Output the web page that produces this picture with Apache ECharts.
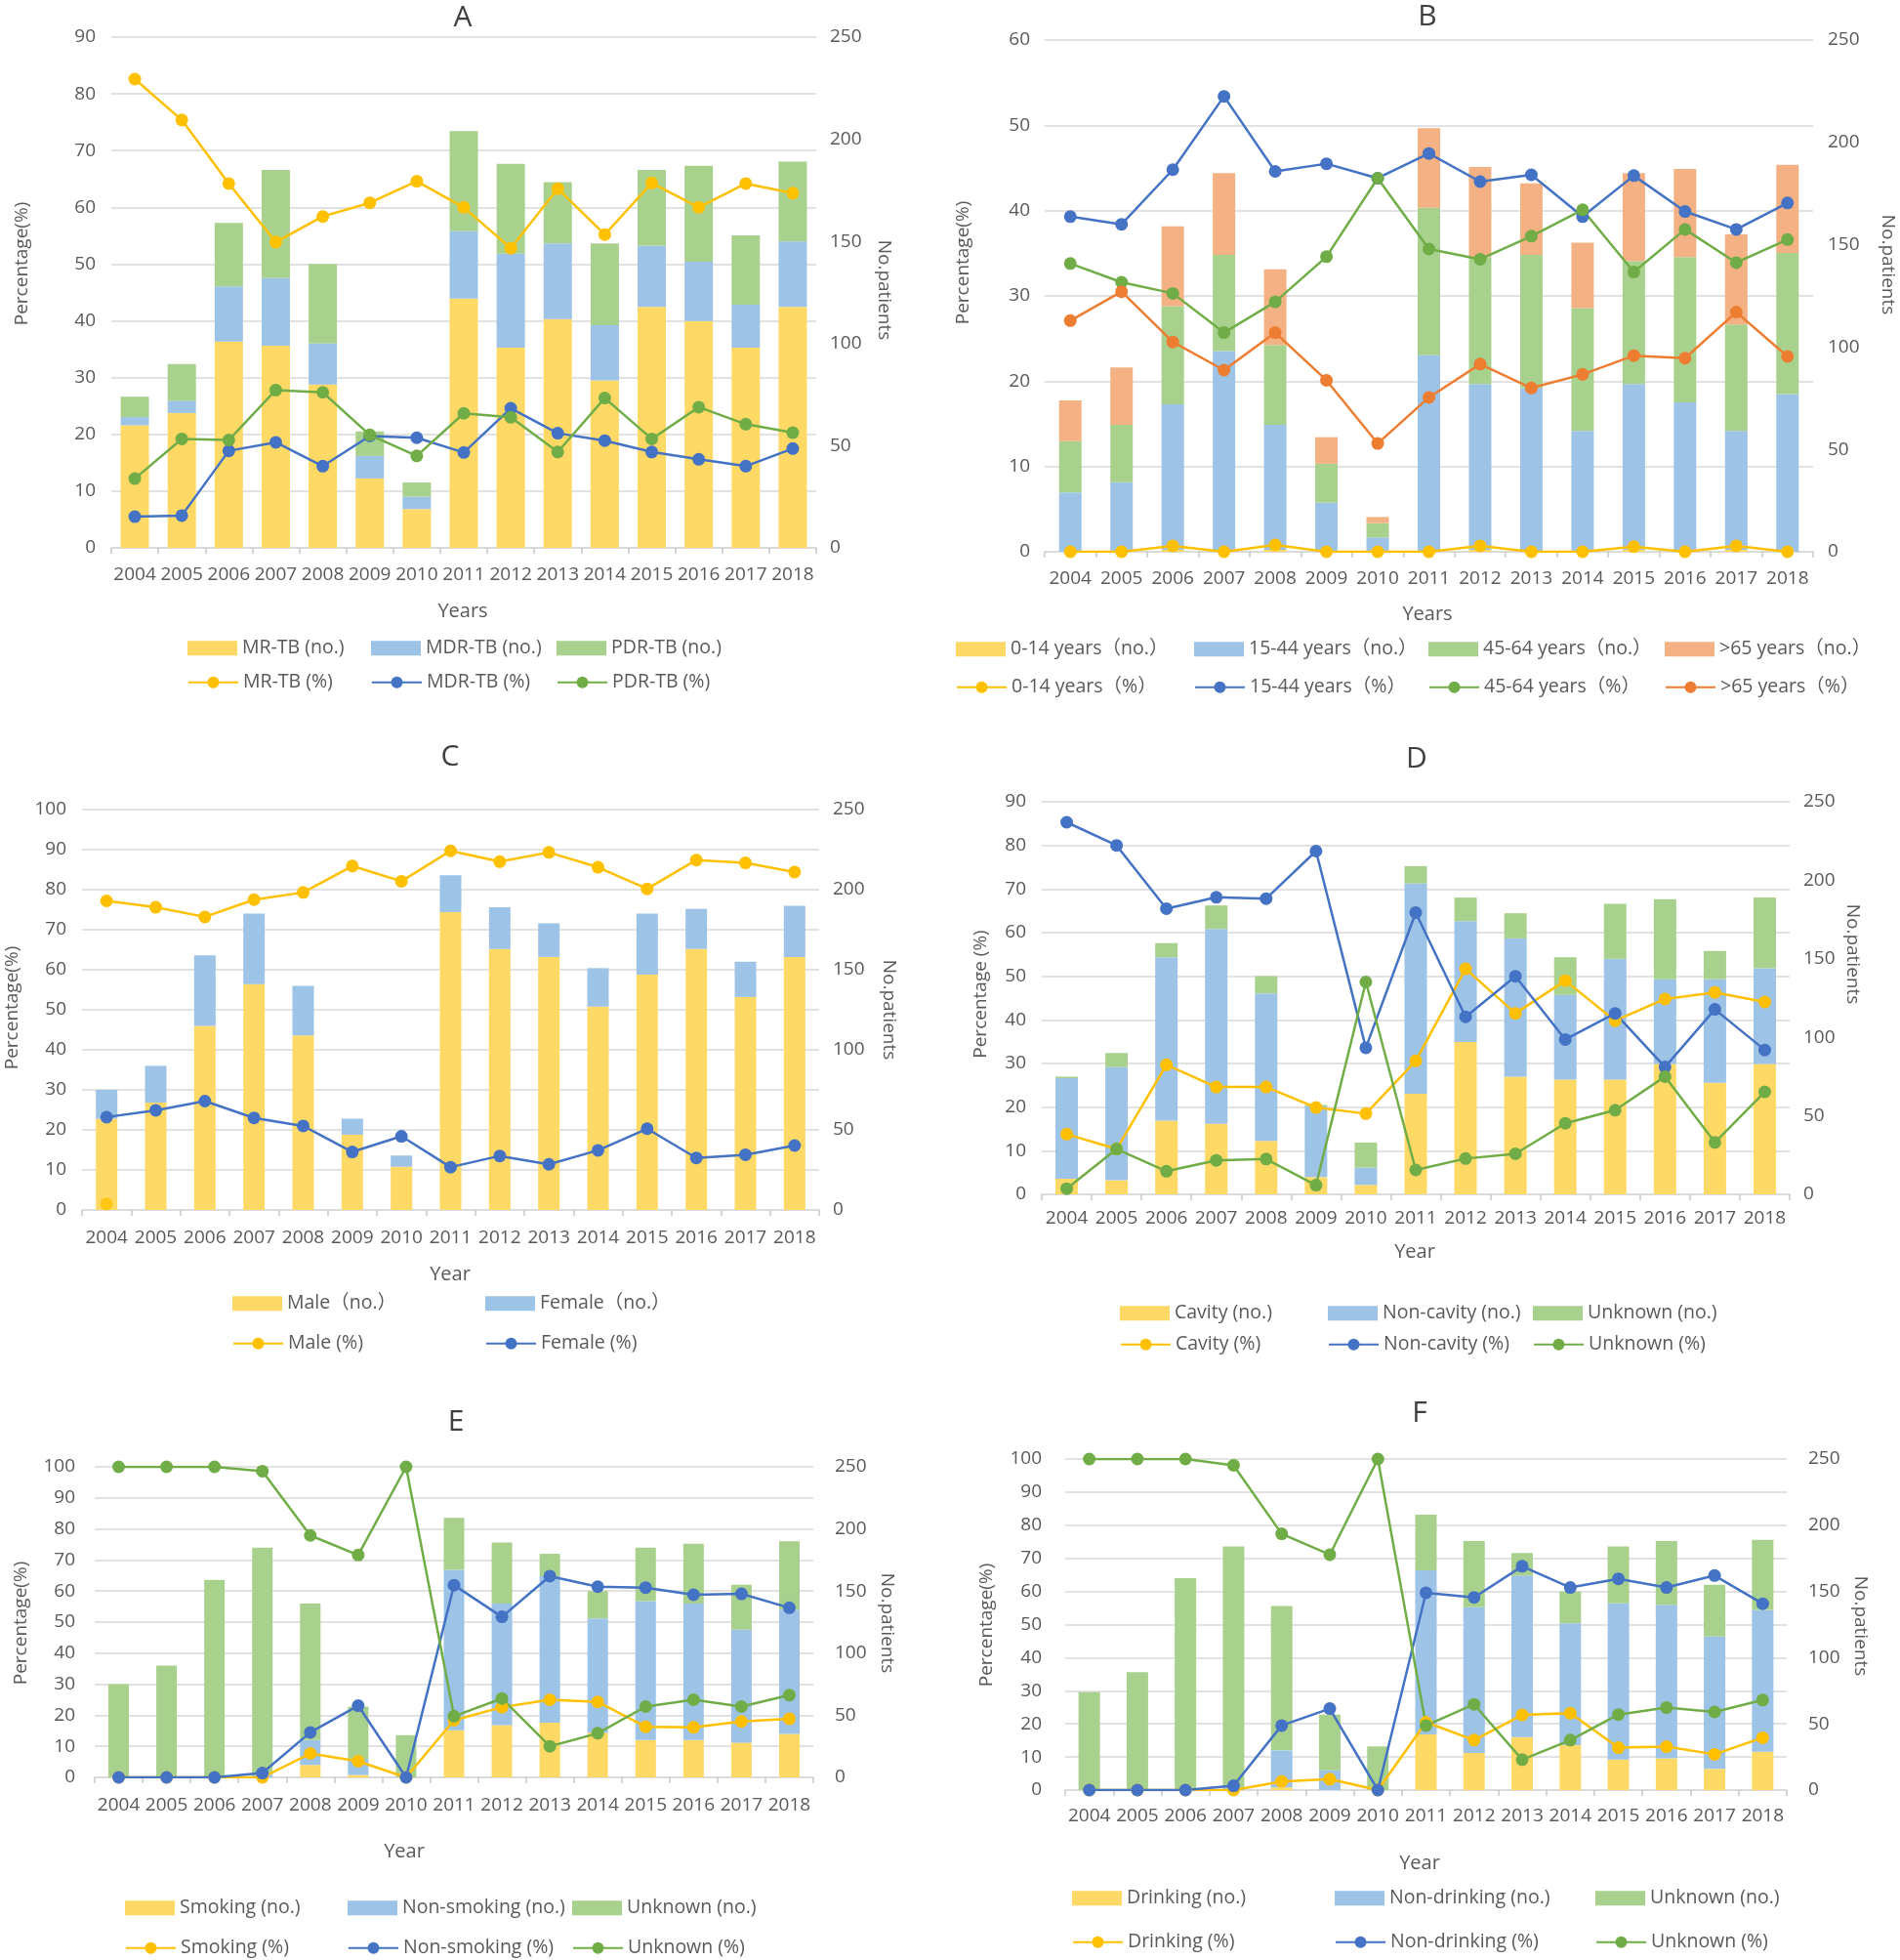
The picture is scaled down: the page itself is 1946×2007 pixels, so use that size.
<!DOCTYPE html>
<html><head><meta charset="utf-8">
<script src="https://cdn.jsdelivr.net/npm/echarts@6/dist/echarts.min.js"></script>
<style>
body{margin:0;background:#fff;}
.c{position:absolute;left:0;top:0;width:1946px;height:2007px;}
</style>
</head><body>
<div id="pA" class="c"></div><div id="pB" class="c"></div><div id="pC" class="c"></div>
<div id="pD" class="c"></div><div id="pE" class="c"></div><div id="pF" class="c"></div>
<script>
const years = ['2004','2005','2006','2007','2008','2009','2010','2011','2012','2013','2014','2015','2016','2017','2018'];

// Panel A
const aMrNo  = [60, 66, 101, 99, 80, 34, 19, 122, 98, 112, 82, 118, 111, 98, 118];
const aMdrNo = [4, 6, 27, 33, 20, 11, 6, 33, 46, 37, 27, 30, 29, 21, 32];
const aPdrNo = [10, 18, 31, 53, 39, 12, 7, 49, 44, 30, 40, 37, 47, 34, 39];
const aMrPct  = [82.6, 75.4, 64.2, 53.9, 58.4, 60.8, 64.6, 60.0, 52.8, 63.3, 55.2, 64.3, 60.0, 64.2, 62.5];
const aMdrPct = [5.5, 5.7, 17.1, 18.6, 14.4, 19.7, 19.4, 16.8, 24.6, 20.2, 18.9, 16.9, 15.6, 14.4, 17.5];
const aPdrPct = [12.2, 19.2, 19.0, 27.8, 27.4, 19.9, 16.2, 23.7, 23.0, 16.9, 26.4, 19.2, 24.8, 21.8, 20.3];

// Panel B
const b014No  = [0, 0, 1, 0, 1, 0, 0, 0, 1, 0, 0, 1, 0, 1, 0];
const b1544No = [29, 34, 71, 98, 61, 24, 7, 96, 81, 80, 59, 81, 73, 58, 77];
const b4564No = [25, 28, 48, 47, 39, 19, 7, 72, 62, 65, 60, 60, 71, 52, 69];
const b65No   = [20, 28, 39, 40, 37, 13, 3, 39, 44, 35, 32, 43, 43, 44, 43];
const b014Pct  = [0, 0, 0.7, 0, 0.8, 0, 0, 0, 0.7, 0, 0, 0.6, 0, 0.7, 0];
const b1544Pct = [39.3, 38.4, 44.8, 53.4, 44.6, 45.5, 43.8, 46.7, 43.4, 44.2, 39.3, 44.1, 39.9, 37.8, 40.9];
const b4564Pct = [33.8, 31.6, 30.3, 25.7, 29.3, 34.6, 43.8, 35.5, 34.3, 37.0, 40.1, 32.8, 37.8, 33.9, 36.6];
const b65Pct   = [27.1, 30.5, 24.6, 21.3, 25.7, 20.1, 12.7, 18.1, 22.0, 19.2, 20.8, 23.0, 22.7, 28.1, 22.9];

// Panel C
const cMaleNo   = [57, 67, 115, 141, 109, 47, 27, 186, 163, 158, 127, 147, 163, 133, 158];
const cFemaleNo = [18, 23, 44, 44, 31, 10, 7, 23, 26, 21, 24, 38, 25, 22, 32];
const cMalePct   = [77.2, 75.6, 73.2, 77.5, 79.3, 85.9, 82.1, 89.7, 87.0, 89.3, 85.6, 80.2, 87.4, 86.7, 84.4];
const cFemalePct = [23.2, 24.9, 27.2, 23.0, 21.0, 14.5, 18.4, 10.7, 13.5, 11.4, 14.9, 20.3, 13.0, 13.8, 16.1];
const cMaleStray = [1.5, null, null, null, null, null, null, null, null, null, null, null, null, null, null];

// Panel D
const dCavNo = [10, 9, 47, 45, 34, 11, 6, 64, 97, 75, 73, 73, 83, 71, 83];
const dNonNo = [64, 72, 104, 124, 94, 45, 11, 134, 77, 88, 54, 77, 54, 66, 61];
const dUnkNo = [1, 9, 9, 15, 11, 1, 16, 11, 15, 16, 24, 35, 51, 18, 45];
const dCavPct = [13.8, 10.4, 29.7, 24.6, 24.6, 19.9, 18.5, 30.6, 51.7, 41.5, 49.0, 39.8, 44.8, 46.3, 44.1];
const dNonPct = [85.3, 80.0, 65.5, 68.1, 67.8, 78.7, 33.6, 64.6, 40.7, 50.0, 35.5, 41.5, 29.2, 42.4, 33.1];
const dUnkPct = [1.3, 10.4, 5.3, 7.8, 8.1, 2.1, 48.7, 5.6, 8.2, 9.3, 16.3, 19.3, 27.0, 11.9, 23.5];

// Panel E
const eSmkNo = [0, 0, 0, 0, 10, 2, 0, 38, 42, 44, 36, 30, 30, 28, 35];
const eNonNo = [0, 0, 0, 2, 20, 13, 0, 129, 98, 118, 92, 112, 110, 91, 100];
const eUnkNo = [75, 90, 159, 183, 110, 42, 34, 42, 49, 18, 22, 43, 48, 36, 55];
const eSmkPct = [0, 0, 0, 0, 7.7, 5.2, 0, 18.4, 22.6, 25.0, 24.3, 16.3, 16.1, 18.0, 18.9];
const eNonPct = [0, 0, 0, 1.4, 14.5, 23.1, 0, 61.9, 51.7, 64.8, 61.4, 61.1, 58.8, 59.1, 54.6];
const eUnkPct = [100, 100, 100, 98.6, 77.9, 71.6, 100, 19.7, 25.4, 10.0, 14.2, 22.8, 25.0, 22.8, 26.5];

// Panel F
const fDrkNo = [0, 0, 0, 0, 2, 0, 0, 42, 28, 40, 34, 23, 24, 16, 29];
const fNonNo = [0, 0, 0, 2, 28, 15, 0, 124, 110, 122, 92, 118, 116, 100, 107];
const fUnkNo = [74, 89, 160, 182, 109, 42, 33, 42, 50, 17, 24, 43, 48, 39, 53];
const fDrkPct = [0, 0, 0, 0, 2.6, 3.3, 0, 20.5, 15.1, 22.7, 23.2, 12.8, 13.1, 10.8, 15.8];
const fNonPct = [0, 0, 0, 1.3, 19.5, 24.6, 0, 59.6, 58.2, 67.6, 61.2, 63.8, 61.2, 64.8, 56.3];
const fUnkPct = [100, 100, 100, 98.1, 77.4, 71.1, 100, 19.5, 25.9, 9.2, 15.1, 22.8, 24.9, 23.6, 27.2];

const FONT = "'Open Sans', 'Noto Sans CJK SC', sans-serif";
const TXT = '#595959';
const COL = {ybar:'#FFD966', bbar:'#9DC3E6', gbar:'#A9D18E', obar:'#F4B183',
             yl:'#FFC000', bl:'#4472C4', gl:'#70AD47', ol:'#ED7D31'};

function txt(text, x, y, size, rot, color) {
  return {type:'text', x:x, y:y, rotation:rot||0, silent:true,
    style:{text:text, fontSize:size, fontFamily:FONT, fill:color||TXT, align:'center', verticalAlign:'middle'}};
}
function leg(name, x, y, isBar) {
  const o = {data:[name], left:x, top:y-8, padding:0, itemWidth:51, itemHeight:15, itemGap:0,
    selectedMode:false, textStyle:{fontSize:19.5, color:TXT, fontFamily:FONT}};
  if (isBar) o.icon = 'rect';
  return o;
}

function panel(el, p) {
  const chart = echarts.init(document.getElementById(el));
  const series = [];
  p.bars.forEach(b => series.push({name:b.name, type:'bar', stack:'n', yAxisIndex:1, barWidth:p.barWidth,
    data:b.data, itemStyle:{color:b.color}, emphasis:{disabled:true}}));
  p.lines.forEach(l => series.push({name:l.name, type:'line', yAxisIndex:0, data:l.data,
    symbol:'circle', symbolSize:13, showSymbol:true, showAllSymbol:true,
    lineStyle:{color:l.color, width:2.5}, itemStyle:{color:l.color}, emphasis:{disabled:true}}));
  (p.extra||[]).forEach(e => series.push({type:'scatter', yAxisIndex:0, data:e.data, symbol:'circle',
    symbolSize:13, itemStyle:{color:e.color}, emphasis:{disabled:true}}));
  const legends = [];
  p.bars.forEach((b,i) => legends.push(leg(b.name, p.legX[i], p.legY[0], true)));
  p.lines.forEach((l,i) => legends.push(leg(l.name, p.legX[i], p.legY[1], false)));
  const g = p.g;
  const graphics = [
    txt(p.title, p.titlePos[0], p.titlePos[1], 30, 0, '#404040'),
    txt(p.xName, p.xNamePos[0], p.xNamePos[1], 20),
    txt(p.lName, p.lNamePos[0], p.lNamePos[1], 19, Math.PI/2),
    txt('No.patients', p.rNamePos[0], p.rNamePos[1], 19, -Math.PI/2)
  ];
  chart.setOption({
    animation:false,
    textStyle:{fontFamily:FONT},
    grid:{left:g[0], top:g[2], width:g[1]-g[0], height:g[3]-g[2], outerBoundsMode:'none', containLabel:false},
    xAxis:{type:'category', data:years, boundaryGap:true,
      axisLine:{lineStyle:{color:'#D9D9D9', width:1.5}},
      axisTick:{show:true, length:6, lineStyle:{color:'#C8C8C8', width:1.5}},
      axisLabel:{interval:0, color:TXT, fontSize:19, fontFamily:FONT, margin:p.xm}},
    yAxis:[
      {type:'value', min:0, max:p.lmax, interval:p.lint, axisLine:{show:false}, axisTick:{show:false},
       splitLine:{lineStyle:{color:'#D9D9D9', width:1.5}},
       axisLabel:{color:TXT, fontSize:19, fontFamily:FONT, margin:p.lm}},
      {type:'value', min:0, max:250, interval:50, position:'right', axisLine:{show:false}, axisTick:{show:false},
       splitLine:{show:false},
       axisLabel:{color:TXT, fontSize:19, fontFamily:FONT, margin:p.rm}}
    ],
    legend:legends,
    graphic:graphics,
    series:series
  });
}

panel('pA', {
  g:[114, 836, 38, 561], lmax:90, lint:10, barWidth:29, xm:18, lm:16, rm:14,
  title:'A', titlePos:[474, 18], xName:'Years', xNamePos:[474, 626],
  lName:'Percentage(%)', lNamePos:[23, 270], rNamePos:[905, 297],
  legX:[192, 380, 570], legY:[662, 697],
  bars:[{name:'MR-TB (no.)', data:aMrNo, color:COL.ybar},
        {name:'MDR-TB (no.)', data:aMdrNo, color:COL.bbar},
        {name:'PDR-TB (no.)', data:aPdrNo, color:COL.gbar}],
  lines:[{name:'MR-TB (%)', data:aMrPct, color:COL.yl},
         {name:'MDR-TB (%)', data:aMdrPct, color:COL.bl},
         {name:'PDR-TB (%)', data:aPdrPct, color:COL.gl}]
});

panel('pB', {
  g:[1070, 1857, 41, 565], lmax:60, lint:10, barWidth:23, xm:18, lm:15, rm:15,
  title:'B', titlePos:[1462, 17], xName:'Years', xNamePos:[1462, 629],
  lName:'Percentage(%)', lNamePos:[987, 269], rNamePos:[1933, 271],
  legX:[979, 1223, 1463, 1705], legY:[663, 702],
  bars:[{name:'0-14 years（no.）', data:b014No, color:COL.ybar},
        {name:'15-44 years（no.）', data:b1544No, color:COL.bbar},
        {name:'45-64 years（no.）', data:b4564No, color:COL.gbar},
        {name:'>65 years（no.）', data:b65No, color:COL.obar}],
  lines:[{name:'0-14 years（%）', data:b014Pct, color:COL.yl},
         {name:'15-44 years（%）', data:b1544Pct, color:COL.bl},
         {name:'45-64 years（%）', data:b4564Pct, color:COL.gl},
         {name:'>65 years（%）', data:b65Pct, color:COL.ol}]
});

panel('pC', {
  g:[84, 839, 829, 1239], lmax:100, lint:10, barWidth:22, xm:19, lm:16, rm:14,
  title:'C', titlePos:[461, 775], xName:'Year', xNamePos:[461, 1305],
  lName:'Percentage(%)', lNamePos:[13, 1032], rNamePos:[910, 1034],
  legX:[238, 497], legY:[1333, 1374],
  bars:[{name:'Male（no.）', data:cMaleNo, color:COL.ybar},
        {name:'Female（no.）', data:cFemaleNo, color:COL.bbar}],
  lines:[{name:'Male (%)', data:cMalePct, color:COL.yl},
         {name:'Female (%)', data:cFemalePct, color:COL.bl}],
  extra:[{data:cMaleStray, color:COL.yl}]
});

panel('pD', {
  g:[1067, 1833, 821, 1223], lmax:90, lint:10, barWidth:23, xm:15, lm:16, rm:14,
  title:'D', titlePos:[1451, 777], xName:'Year', xNamePos:[1449, 1282],
  lName:'Percentage (%)', lNamePos:[1005, 1018], rNamePos:[1897, 977],
  legX:[1147, 1360, 1570], legY:[1343, 1375],
  bars:[{name:'Cavity (no.)', data:dCavNo, color:COL.ybar},
        {name:'Non-cavity (no.)', data:dNonNo, color:COL.bbar},
        {name:'Unknown (no.)', data:dUnkNo, color:COL.gbar}],
  lines:[{name:'Cavity (%)', data:dCavPct, color:COL.yl},
         {name:'Non-cavity (%)', data:dNonPct, color:COL.bl},
         {name:'Unknown (%)', data:dUnkPct, color:COL.gl}]
});

panel('pE', {
  g:[97, 833, 1502, 1820], lmax:100, lint:10, barWidth:21, xm:19, lm:20, rm:22,
  title:'E', titlePos:[467, 1456], xName:'Year', xNamePos:[414, 1896],
  lName:'Percentage(%)', lNamePos:[22, 1662], rNamePos:[908, 1662],
  legX:[128, 356, 586], legY:[1952, 1993],
  bars:[{name:'Smoking (no.)', data:eSmkNo, color:COL.ybar},
        {name:'Non-smoking (no.)', data:eNonNo, color:COL.bbar},
        {name:'Unknown (no.)', data:eUnkNo, color:COL.gbar}],
  lines:[{name:'Smoking (%)', data:eSmkPct, color:COL.yl},
         {name:'Non-smoking (%)', data:eNonPct, color:COL.bl},
         {name:'Unknown (%)', data:eUnkPct, color:COL.gl}]
});

panel('pF', {
  g:[1091, 1830, 1494, 1833], lmax:100, lint:10, barWidth:22, xm:17, lm:24, rm:22,
  title:'F', titlePos:[1454, 1447], xName:'Year', xNamePos:[1454, 1908],
  lName:'Percentage(%)', lNamePos:[1011, 1664], rNamePos:[1905, 1665],
  legX:[1098, 1367, 1634], legY:[1942, 1987],
  bars:[{name:'Drinking (no.)', data:fDrkNo, color:COL.ybar},
        {name:'Non-drinking (no.)', data:fNonNo, color:COL.bbar},
        {name:'Unknown (no.)', data:fUnkNo, color:COL.gbar}],
  lines:[{name:'Drinking (%)', data:fDrkPct, color:COL.yl},
         {name:'Non-drinking (%)', data:fNonPct, color:COL.bl},
         {name:'Unknown (%)', data:fUnkPct, color:COL.gl}]
});
</script>
</body></html>
